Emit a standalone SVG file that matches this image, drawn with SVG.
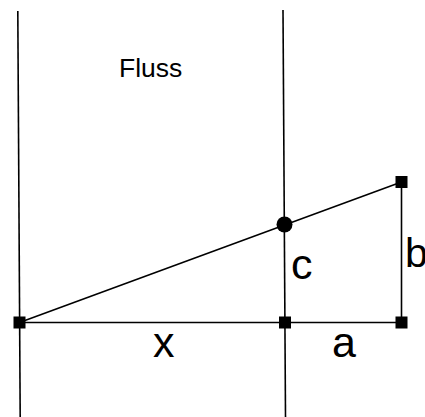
<svg xmlns="http://www.w3.org/2000/svg" width="425" height="417" viewBox="0 0 425 417">
<style>
.ln{stroke:#000;stroke-width:1.6;fill:none}
.pt{fill:#000}
.t{font-family:"Liberation Sans",Arial,sans-serif;fill:#000}
</style>
<rect width="425" height="417" fill="#fff"/>
<g id="connectors">
<line class="ln" x1="17.8" y1="11" x2="20.2" y2="417"/>
<line class="ln" x1="283" y1="10" x2="285.5" y2="417"/>
<line class="ln" x1="19.5" y1="322.5" x2="401.5" y2="322.5"/>
<line class="ln" x1="401.5" y1="182" x2="401.5" y2="322.5"/>
<line class="ln" x1="19.5" y1="322.5" x2="401.5" y2="182"/>
</g>
<g id="p1"><rect class="pt" x="13.5" y="316.5" width="12" height="12"/></g>
<g id="p2"><rect class="pt" x="279" y="316.5" width="12" height="12"/></g>
<g id="p3"><rect class="pt" x="395.5" y="316.5" width="12" height="12"/></g>
<g id="p4"><rect class="pt" x="395.5" y="176" width="12" height="12"/></g>
<g id="p5"><circle class="pt" cx="284.5" cy="224.5" r="8"/></g>
<g id="labels">
<text class="t" x="119" y="77" font-size="26.5">Fluss</text>
<text class="t" x="153" y="357" font-size="43">x</text>
<text class="t" x="332" y="357" font-size="43">a</text>
<text class="t" x="291" y="279" font-size="43">c</text>
<text class="t" x="405" y="267" font-size="41">b</text>
</g>
</svg>
